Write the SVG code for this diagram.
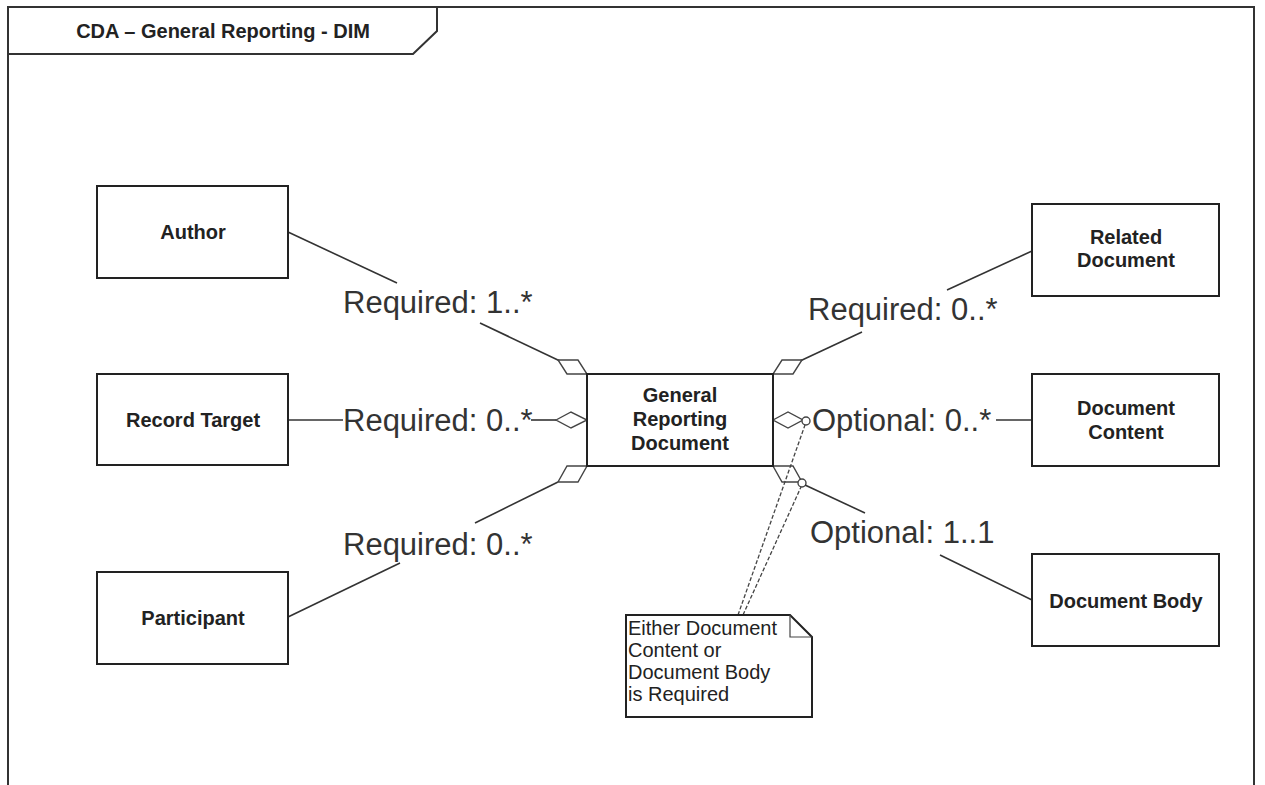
<svg xmlns="http://www.w3.org/2000/svg" width="1265" height="785" viewBox="0 0 1265 785">
<style>
  .frame{fill:none;stroke:#333;stroke-width:2}
  .box{fill:#fff;stroke:#222;stroke-width:2}
  .ln{fill:none;stroke:#333;stroke-width:1.6}
  .dia{fill:#fff;stroke:#444;stroke-width:1.4}
  .dash{fill:none;stroke:#444;stroke-width:1.3;stroke-dasharray:4,2}
  .nt{font-family:"Liberation Sans",Arial,sans-serif;font-weight:bold;font-size:20px;fill:#222;text-anchor:middle}
  .lbl{font-family:"Liberation Sans",Arial,sans-serif;font-size:31px;fill:#333}
  .note{font-family:"Liberation Sans",Arial,sans-serif;font-size:20px;fill:#222}
</style>
<rect width="1265" height="785" fill="#fff"/>
<g id="frame">
  <path class="frame" d="M8,790 V7 H1254 V790"/>
  <path class="frame" d="M8,54 H413 L437,31 V7"/>
  <text class="nt" x="223" y="38">CDA – General Reporting - DIM</text>
</g>
<g id="connectors">
  <!-- Author -->
  <line class="ln" x1="288" y1="232" x2="397" y2="283"/>
  <line class="ln" x1="480" y1="323" x2="560" y2="361"/>
  <polygon class="dia" points="558,360 578,360 587,374 567,374"/>
  <!-- Record Target -->
  <line class="ln" x1="288" y1="420" x2="343" y2="420"/>
  <line class="ln" x1="531" y1="420" x2="556" y2="420"/>
  <polygon class="dia" points="556,420 571,412 587,420 571,428"/>
  <!-- Participant -->
  <line class="ln" x1="558" y1="482" x2="475" y2="523"/>
  <line class="ln" x1="400" y1="563" x2="288" y2="617"/>
  <polygon class="dia" points="567,466 587,466 578,482 558,482"/>
  <!-- Related Document -->
  <line class="ln" x1="1032" y1="251" x2="947" y2="290"/>
  <line class="ln" x1="862" y1="332" x2="800" y2="361"/>
  <polygon class="dia" points="802,360 782,360 773,374 793,374"/>
  <!-- Document Content -->
  <line class="ln" x1="1032" y1="420" x2="996" y2="420"/>
  <polygon class="dia" points="773,420 788,412 803,420 788,428"/>
  <circle class="dia" cx="806" cy="421" r="4"/>
  <!-- Document Body -->
  <polygon class="dia" points="773,466 793,466 802,482 782,482"/>
  <circle class="dia" cx="802" cy="483" r="4"/>
  <line class="ln" x1="805" y1="485" x2="865" y2="513"/>
  <line class="ln" x1="940" y1="555" x2="1032" y2="600"/>
  <!-- note anchors -->
  <line class="dash" x1="738" y1="615" x2="805" y2="425"/>
  <line class="dash" x1="743" y1="615" x2="801" y2="487"/>
  <!-- labels -->
  <text class="lbl" x="343" y="313">Required: 1..*</text>
  <text class="lbl" x="343" y="431">Required: 0..*</text>
  <text class="lbl" x="343" y="555">Required: 0..*</text>
  <text class="lbl" x="808" y="320">Required: 0..*</text>
  <text class="lbl" x="812" y="431">Optional: 0..*</text>
  <text class="lbl" x="810" y="543">Optional: 1..1</text>
</g>
<g id="author">
  <rect class="box" x="97" y="186" width="191" height="92"/>
  <text class="nt" x="193" y="239">Author</text>
</g>
<g id="record-target">
  <rect class="box" x="97" y="374" width="191" height="91"/>
  <text class="nt" x="193" y="427">Record Target</text>
</g>
<g id="participant">
  <rect class="box" x="97" y="572" width="191" height="92"/>
  <text class="nt" x="193" y="625">Participant</text>
</g>
<g id="general-reporting-document">
  <rect class="box" x="587" y="374" width="186" height="92"/>
  <text class="nt" x="680" y="402">General</text>
  <text class="nt" x="680" y="426">Reporting</text>
  <text class="nt" x="680" y="450">Document</text>
</g>
<g id="related-document">
  <rect class="box" x="1032" y="204" width="187" height="92"/>
  <text class="nt" x="1126" y="244">Related</text>
  <text class="nt" x="1126" y="267">Document</text>
</g>
<g id="document-content">
  <rect class="box" x="1032" y="374" width="187" height="92"/>
  <text class="nt" x="1126" y="415">Document</text>
  <text class="nt" x="1126" y="439">Content</text>
</g>
<g id="document-body">
  <rect class="box" x="1032" y="554" width="187" height="92"/>
  <text class="nt" x="1126" y="608">Document Body</text>
</g>
<g id="note">
  <path class="box" stroke-width="1.5" d="M626,615 H790 L812,637 V717 H626 Z"/>
  <path fill="none" stroke="#444" stroke-width="1.2" d="M790,615 V637 H812"/>
  <text class="note" x="628" y="635">Either Document</text>
  <text class="note" x="628" y="657">Content or</text>
  <text class="note" x="628" y="679">Document Body</text>
  <text class="note" x="628" y="701">is Required</text>
</g>
</svg>
